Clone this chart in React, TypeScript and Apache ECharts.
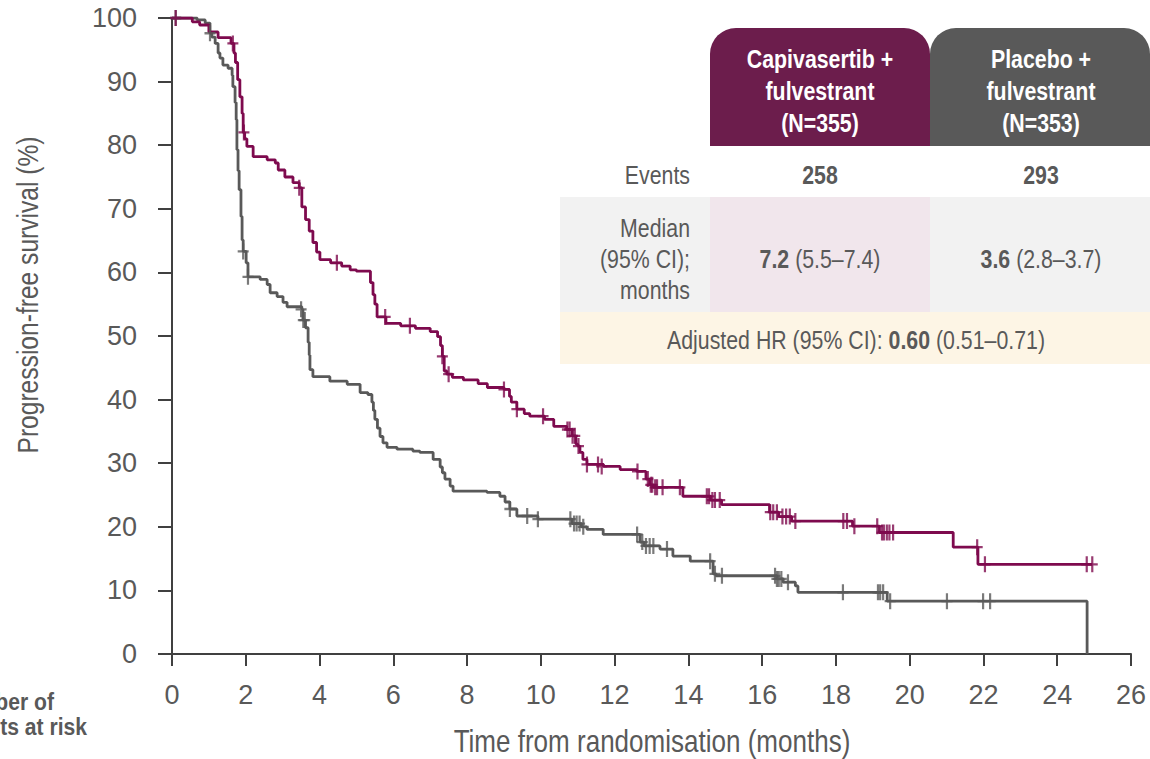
import React, { useEffect, useRef } from "react";
import * as echarts from "echarts";

const FONT = "'Liberation Sans', Arial, sans-serif";
const NARROW = 0.82;

const xTicks = { min: 0, max: 26, interval: 2 };
const yTicks = { min: 0, max: 100, interval: 10 };

// Capivasertib + fulvestrant: [months, PFS %] (value holds from that time on)
const capiSteps: [number, number][] = [
  [0, 100], [0.55, 99.4], [0.75, 98.9], [1.0, 97.8], [1.25, 96.9], [1.6, 96.0], [1.68, 94.5], [1.72, 93],
  [1.78, 90.3], [1.84, 87.6], [1.9, 85], [1.93, 82], [1.97, 81], [2.03, 79.8], [2.2, 78.2], [2.58, 77.7],
  [2.8, 77.2], [2.88, 76.1], [3.06, 75], [3.28, 74.1], [3.45, 73.3], [3.52, 70.3], [3.62, 68.3], [3.72, 66.5],
  [3.82, 64.7], [3.92, 63.2], [4.01, 62], [4.3, 61.5], [4.6, 61], [4.83, 60.4], [5.0, 60.2], [5.38, 58.4],
  [5.45, 56.5], [5.5, 55], [5.56, 53], [5.8, 52], [6.2, 51.6], [6.6, 51.2], [7.0, 50.7], [7.2, 49.9],
  [7.28, 48.5], [7.33, 46.8], [7.38, 44.5], [7.45, 44], [7.6, 43.5], [7.9, 43.1], [8.3, 42.5], [8.55, 41.9],
  [9.0, 41.6], [9.15, 40.5], [9.2, 39.6], [9.35, 38.5], [9.55, 37.8], [9.7, 37.4], [10.1, 36.9], [10.35, 35.8],
  [10.7, 35.3], [10.85, 34.3], [10.95, 33], [11.0, 32.7], [11.06, 31.7], [11.14, 30.6], [11.25, 29.8],
  [11.7, 29.5], [12.15, 29], [12.6, 28.7], [12.85, 27.5], [12.95, 26.6], [13.05, 26.2], [13.85, 24.8],
  [14.6, 24.2], [14.9, 23.5], [16.2, 22.3], [16.45, 21.6], [16.8, 20.9], [18.45, 20.1], [19.18, 19.1],
  [21.18, 16.8], [21.85, 14.1], [24.95, 14.1],
];

const capiCensor: [number, number][] = [
  [0.1, 100], [1.65, 96], [1.95, 82], [3.45, 73.3], [4.47, 61.5], [5.78, 53], [6.45, 51.6], [7.33, 46.8],
  [7.5, 44], [9.0, 41.6], [9.35, 38.5], [10.06, 37.4], [10.72, 35.3], [10.78, 35.3], [10.86, 34.3],
  [10.92, 34.3], [11.02, 32.7], [11.25, 29.8], [11.55, 29.8], [11.65, 29.5], [12.62, 28.7], [12.9, 27.5],
  [12.98, 26.6], [13.02, 26.6], [13.1, 26.2], [13.15, 26.2], [13.3, 26.2], [13.77, 26.2], [14.5, 24.8],
  [14.56, 24.8], [14.65, 24.2], [14.72, 24.2], [14.85, 24.2], [16.22, 22.3], [16.3, 22.3], [16.4, 22.3],
  [16.55, 21.6], [16.65, 21.6], [16.75, 21.6], [16.9, 20.9], [18.2, 20.9], [18.3, 20.9], [18.5, 20.1],
  [19.12, 20.1], [19.25, 19.1], [19.3, 19.1], [19.38, 19.1], [19.45, 19.1], [19.55, 19.1], [21.83, 16.8],
  [22.04, 14.1], [24.8, 14.1], [24.95, 14.1],
];

// Placebo + fulvestrant
const placeboSteps: [number, number][] = [
  [0, 100], [0.68, 99.7], [0.9, 99.2], [1.03, 97.6], [1.08, 97], [1.17, 96], [1.25, 94.5], [1.3, 93.7],
  [1.38, 92.6], [1.52, 92.1], [1.63, 91], [1.65, 89.2], [1.71, 86.7], [1.74, 84], [1.76, 79.3], [1.79, 76],
  [1.82, 73], [1.87, 68.8], [1.9, 65.1], [1.93, 63.3], [2.01, 61.5], [2.06, 59.3], [2.39, 58.9], [2.58, 58.1],
  [2.66, 56.8], [2.85, 56.2], [3.01, 55.3], [3.12, 54.6], [3.52, 54.2], [3.55, 52.5], [3.62, 51.3], [3.69, 49],
  [3.72, 47], [3.74, 44.7], [3.82, 43.6], [4.28, 42.9], [4.75, 42.4], [5.1, 41.1], [5.31, 40.8], [5.42, 39.6],
  [5.46, 38.3], [5.5, 36.9], [5.57, 35.5], [5.64, 34.2], [5.72, 33.2], [5.83, 32.5], [6.1, 32.2], [6.53, 31.9],
  [6.72, 31.7], [7.08, 30.6], [7.27, 29.4], [7.33, 28.5], [7.4, 27.5], [7.54, 26.4], [7.62, 25.6], [8.54, 25.4],
  [8.89, 24.8], [9.03, 23.9], [9.16, 22.8], [9.35, 21.7], [9.92, 21.2], [10.85, 20.5], [11.1, 20], [11.25, 19.6],
  [11.69, 18.8], [12.69, 17.6], [12.8, 17.0], [13.23, 16.5], [13.58, 15.4], [14.05, 14.6], [14.67, 12.6],
  [14.75, 12.3], [16.4, 11.8], [16.57, 11.3], [16.9, 10.7], [16.97, 9.7], [19.39, 8.3], [24.81, 8.3], [24.81, 0],
];

const placeboCensor: [number, number][] = [
  [0.1, 100], [1.03, 97.6], [1.93, 63.3], [2.06, 59.3], [3.5, 54.2], [3.56, 52.5], [3.6, 52.5], [9.16, 22.8],
  [9.63, 21.7], [9.92, 21.2], [10.8, 21.2], [10.9, 20.5], [10.97, 20.5], [11.05, 20.5], [11.15, 20],
  [12.61, 18.8], [12.75, 17.6], [12.85, 17], [12.95, 17], [13.05, 17], [13.42, 16.5], [14.59, 14.6],
  [14.72, 12.6], [14.91, 12.3], [16.35, 12.3], [16.4, 11.8], [16.45, 11.8], [16.52, 11.8], [16.7, 11.3],
  [18.19, 9.7], [19.14, 9.7], [19.2, 9.7], [19.28, 9.7], [19.47, 8.3], [21.01, 8.3], [21.99, 8.3], [22.18, 8.3],
];

const armNames = ["Capivasertib +\nfulvestrant\n(N=355)", "Placebo +\nfulvestrant\n(N=353)"];
const events = ["258", "293"];
const medians = ["{b|7.2} (5.5–7.4)", "{b|3.6} (2.8–3.7)"];
const hrText = "Adjusted HR (95% CI): {b|0.60} (0.51–0.71)";

const CAPI = "#7E0A4E";
const PLAC = "#595959";
const TXT = "#595959";
const AXIS = "#404040";
const PLUS = "path://M4,0H6V6H10V8H6V14H4V8H0V6H4Z";

function txt(x: number, y: number, text: string, opts: any = {}) {
  const { rotation, sx, ...style } = opts;
  return {
    type: "text",
    x,
    y,
    scaleX: sx || NARROW,
    scaleY: 1,
    rotation: rotation || 0,
    style: {
      text,
      fontSize: 26,
      fontFamily: FONT,
      fill: TXT,
      align: "center",
      verticalAlign: "middle",
      ...style,
    },
  };
}

export default function App() {
  const ref = useRef<HTMLDivElement>(null);
  useEffect(() => {
    const chart = echarts.init(ref.current!, null, { renderer: "svg" });
    const rich = { b: { fontWeight: "bold", fontSize: 26, fontFamily: FONT, fill: TXT, color: TXT } };
    chart.setOption({
      animation: false,
      backgroundColor: "#ffffff",
      grid: { left: 172, right: 19, top: 18, bottom: 105, containLabel: false },
      xAxis: {
        type: "value",
        ...xTicks,
        axisLine: { show: true, lineStyle: { color: AXIS, width: 2 } },
        axisTick: { show: true, length: 12, lineStyle: { color: AXIS, width: 2 } },
        splitLine: { show: false },
        axisLabel: { fontSize: 27, color: TXT, margin: 27, fontFamily: FONT },
      },
      yAxis: {
        type: "value",
        ...yTicks,
        axisLine: { show: true, lineStyle: { color: AXIS, width: 2 } },
        axisTick: { show: true, length: 14, lineStyle: { color: AXIS, width: 2 } },
        splitLine: { show: false },
        axisLabel: { fontSize: 27, color: TXT, margin: 35, fontFamily: FONT },
      },
      series: [
        {
          type: "line", step: "end", data: placeboSteps, showSymbol: false,
          lineStyle: { color: PLAC, width: 2.8 }, z: 2,
        },
        {
          type: "line", step: "end", data: capiSteps, showSymbol: false,
          lineStyle: { color: CAPI, width: 2.8 }, z: 3,
        },
        {
          type: "scatter", data: placeboCensor, symbol: PLUS, symbolSize: [11, 16],
          itemStyle: { color: PLAC }, z: 4,
        },
        {
          type: "scatter", data: capiCensor, symbol: PLUS, symbolSize: [11, 16],
          itemStyle: { color: CAPI }, z: 5,
        },
      ],
      graphic: [
        txt(28, 295, "Progression-free survival (%)", { rotation: Math.PI / 2, fontSize: 30 }),
        txt(652, 741, "Time from randomisation (months)", { fontSize: 31, sx: 0.84 }),
        txt(54, 702, "Number of", { fontSize: 24, fontWeight: "bold", align: "right", sx: 0.88 }),
        txt(87, 727, "patients at risk", { fontSize: 24, fontWeight: "bold", align: "right", sx: 0.88 }),
        // table backgrounds
        { type: "rect", shape: { x: 560, y: 197, width: 590, height: 115 }, style: { fill: "#F2F2F2" } },
        { type: "rect", shape: { x: 710, y: 197, width: 220, height: 115 }, style: { fill: "#F1E6EC" } },
        { type: "rect", shape: { x: 560, y: 312, width: 590, height: 52 }, style: { fill: "#FDF5E5" } },
        { type: "rect", shape: { x: 710, y: 28, width: 220, height: 118, r: [26, 26, 0, 0] }, style: { fill: "#6C1D4C" } },
        { type: "rect", shape: { x: 930, y: 28, width: 220, height: 118, r: [26, 26, 0, 0] }, style: { fill: "#595959" } },
        txt(820, 91, armNames[0], { fontWeight: "bold", lineHeight: 32, fill: "#ffffff" }),
        txt(1041, 91, armNames[1], { fontWeight: "bold", lineHeight: 32, fill: "#ffffff" }),
        txt(690, 175, "Events", { align: "right" }),
        txt(820, 175, events[0], { fontWeight: "bold" }),
        txt(1041, 175, events[1], { fontWeight: "bold" }),
        txt(690, 259, "Median\n(95% CI);\nmonths", { align: "right", lineHeight: 31 }),
        txt(820, 259, medians[0], { rich }),
        txt(1041, 259, medians[1], { rich }),
        txt(856, 340, hrText, { rich }),
      ],
    });
    return () => chart.dispose();
  }, []);
  return (
    <div
      ref={ref}
      style={{ position: "fixed", left: 0, top: 0, width: 1150, height: 759, background: "#fff" }}
    />
  );
}
